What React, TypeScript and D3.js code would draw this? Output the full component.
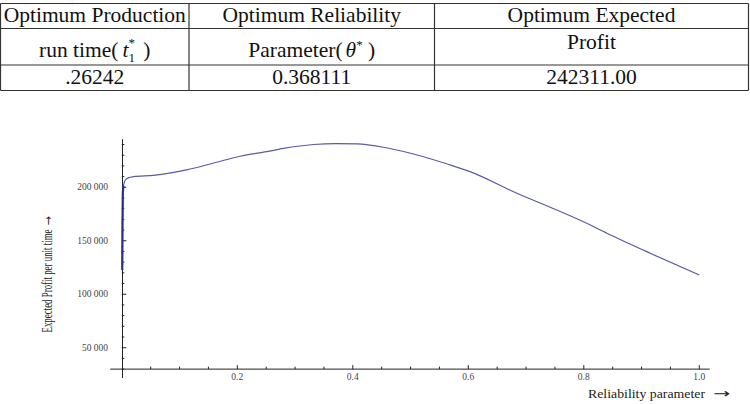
import React from 'react';
import * as d3 from 'd3';

// table contents
const headerRow1 = ['Optimum Production', 'Optimum Reliability', 'Optimum Expected'];
const resultRow = ['.26242', '0.368111', '242311.00'];

// curve: reliability parameter vs expected profit per unit time
const theta = [0.0008, 0.0012, 0.0018, 0.003, 0.006, 0.012, 0.02, 0.055, 0.112, 0.164, 0.205, 0.251,
  0.28, 0.332, 0.37, 0.407, 0.453, 0.5, 0.565, 0.603, 0.684, 0.753, 0.805, 0.84, 0.915, 1.0];
const profit = [122600, 165000, 195000, 201500, 206800, 209000, 209900, 211200, 216200, 223400, 229000, 233300,
  236300, 240000, 240900, 240500, 237400, 231800, 221500, 214600, 194400, 178800, 166300, 157000, 138300, 118000];

const xTicks = [0.2, 0.4, 0.6, 0.8, 1.0];
const yTicks = [50000, 100000, 150000, 200000];

const serif = '"Times New Roman", "Liberation Serif", Times, serif';
const arrowFont = '"DejaVu Sans", sans-serif';

const App = () => {
  const x = d3.scaleLinear().domain([0, 1]).range([121.8, 699.3]);
  const y = d3.scaleLinear().domain([0, 250000]).range([401.2, 133.8]);
  const yCross = y(30000);

  const pts = theta.map((t, i) => [t, profit[i]] as [number, number]);
  const line = d3.line<[number, number]>()
    .x(d => x(d[0]))
    .y(d => y(d[1]))
    .curve(d3.curveMonotoneX);

  const xMinor = d3.range(0.05, 1.001, 0.05).filter(v => Math.abs(v * 5 - Math.round(v * 5)) > 1e-6);
  const yMinor = d3.range(30000, 245001, 10000).filter(v => v % 50000 !== 0);

  // table geometry
  const cols = [0.5, 189, 434.5, 748.5];
  const rows = [3.5, 28.5, 65, 90.5];
  const mid = (i: number) => (cols[i] + cols[i + 1]) / 2;
  const fs = 21.5;

  return (
    <svg width={750} height={404} style={{ position: 'fixed', left: 0, top: 0, background: '#fff', fontFamily: serif }}>
      <rect width={750} height={404} fill="#fff" />
      {/* table */}
      <g stroke="#333" strokeWidth={1.2}>
        {rows.map((r, i) => <line key={'r' + i} x1={cols[0]} x2={cols[3]} y1={r} y2={r} />)}
        {cols.map((c, i) => <line key={'c' + i} x1={c} x2={c} y1={rows[0]} y2={rows[3]} />)}
      </g>
      <g fontSize={fs} fill="#111" textAnchor="middle" style={{ fontFamily: serif }}>
        {headerRow1.map((h, i) => <text key={h} x={mid(i)} y={22}>{h}</text>)}
        <text x={mid(0)} y={57}>
          run time(
          <tspan fontStyle="italic" dx={4}>t</tspan>
          <tspan fontSize={13} dy={5}>1</tspan>
          <tspan fontSize={13} dx={-6.5} dy={-15}>*</tspan>
          <tspan dy={10} dx={3}> )</tspan>
        </text>
        <text x={mid(1)} y={57}>
          Parameter(
          <tspan fontStyle="italic" dx={3}>θ</tspan>
          <tspan fontSize={13} dy={-8}>*</tspan>
          <tspan dy={8}> )</tspan>
        </text>
        <text x={mid(2)} y={49}>Profit</text>
        {resultRow.map((v, i) => <text key={v} x={mid(i)} y={83.5}>{v}</text>)}
      </g>

      {/* axes */}
      <g stroke="#222" strokeWidth={1}>
        <line x1={x(-0.02)} x2={x(1.018)} y1={yCross} y2={yCross} />
        <line x1={x(0) + 0.7} x2={x(0) + 0.7} y1={y(245000)} y2={y(21700)} />
        {xTicks.map(t => <line key={'xt' + t} x1={x(t)} x2={x(t)} y1={yCross} y2={yCross - 4} />)}
        {xMinor.map(t => <line key={'xm' + t} x1={x(t)} x2={x(t)} y1={yCross} y2={yCross - 2.5} />)}
        {yTicks.map(t => <line key={'yt' + t} x1={x(0)} x2={x(0) + 4.5} y1={y(t)} y2={y(t)} />)}
        {yMinor.map(t => <line key={'ym' + t} x1={x(0)} x2={x(0) + 2.5} y1={y(t)} y2={y(t)} />)}
      </g>
      <g fontSize={9.5} fill="#444" style={{ fontFamily: serif }}>
        {xTicks.map(t => (
          <text key={'xl' + t} x={x(t)} y={yCross + 11} textAnchor="middle">{t.toFixed(1)}</text>
        ))}
        {yTicks.map(t => (
          <text key={'yl' + t} x={108} y={y(t) + 3} textAnchor="end">
            {d3.format(',')(t).replace(',', ' ')}
          </text>
        ))}
      </g>

      {/* curve */}
      <path d={line(pts) ?? ''} fill="none" stroke="#5a5aa8" strokeWidth={1.2} />
      <path d={line(pts.slice(0, 4)) ?? ''} fill="none" stroke="#2e2e86" strokeWidth={2.2} />

      {/* axis titles */}
      <text x={588} y={398} fontSize={12} fill="#222" textLength={117} lengthAdjust="spacingAndGlyphs"
        style={{ fontFamily: serif }}>
        Reliability parameter
      </text>
      <text x={713} y={398} fontSize={13} fill="#222" textLength={17} lengthAdjust="spacingAndGlyphs"
        style={{ fontFamily: arrowFont }}>→</text>
      <text transform="translate(52,281) rotate(-90)" textAnchor="middle" fontSize={14} fill="#222"
        textLength={103} lengthAdjust="spacingAndGlyphs" style={{ fontFamily: serif }}>
        Expected Profit per unit time
      </text>
      <text transform="translate(52,221) rotate(-90)" textAnchor="middle" fontSize={11} fill="#222"
        style={{ fontFamily: arrowFont }}>→</text>
    </svg>
  );
};

export default App;
